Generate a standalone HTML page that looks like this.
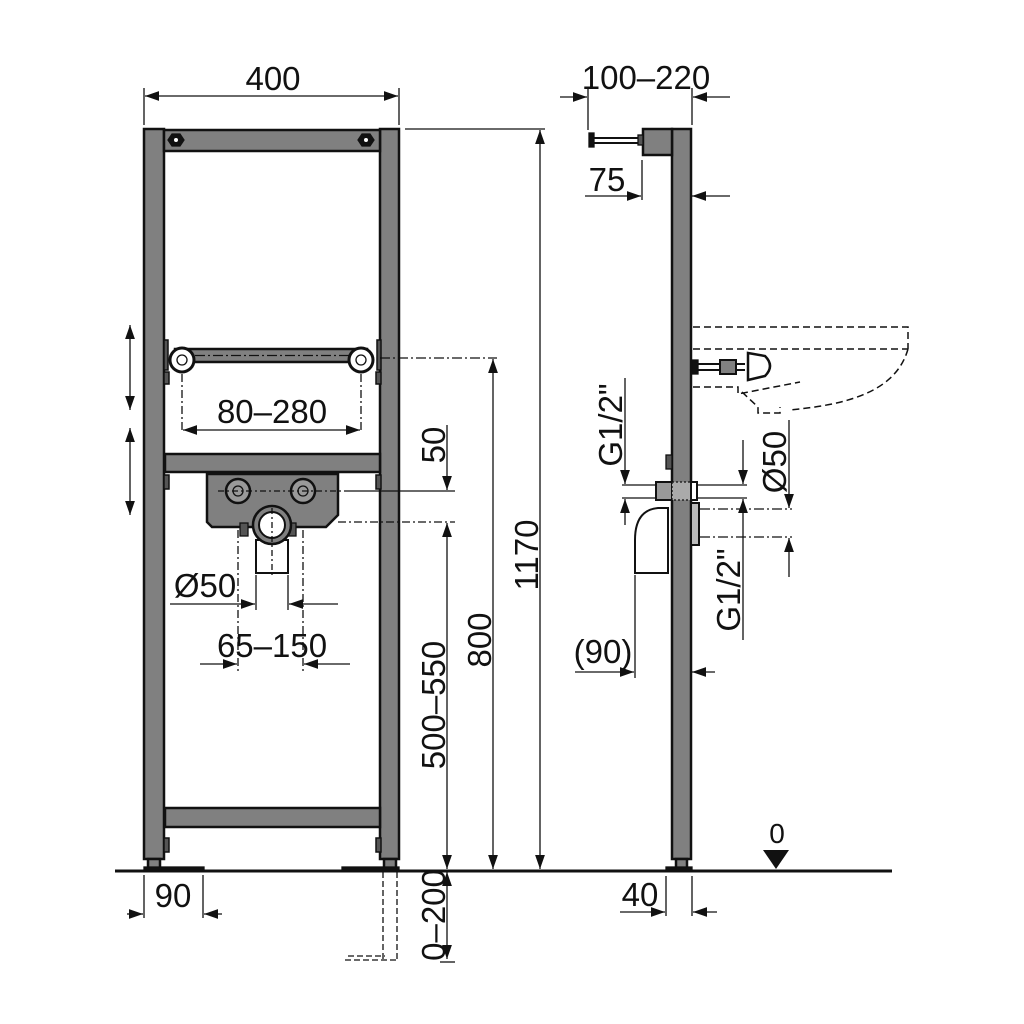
<!DOCTYPE html>
<html><head><meta charset="utf-8"><style>
html,body{margin:0;padding:0;background:#fff;}
svg{display:block;}
text{font-family:"Liberation Sans","DejaVu Sans",sans-serif;fill:#111;}
</style></head><body>
<svg width="1024" height="1024" viewBox="0 0 1024 1024" xmlns="http://www.w3.org/2000/svg">
<defs>
<marker id="a" viewBox="0 0 10 10" refX="10" refY="5" markerWidth="14" markerHeight="14" markerUnits="userSpaceOnUse" orient="auto-start-reverse"><path d="M0,1.5 L10,5 L0,8.5 z" fill="#111"/></marker>
</defs>
<g stroke="#111" stroke-width="1.3" fill="none">
<line x1="115" y1="871" x2="892" y2="871" stroke-width="3"/>

<g fill="#808080" stroke="#111" stroke-width="2.5">
<rect x="144" y="129" width="20" height="730"/>
<rect x="380" y="129" width="19" height="730"/>
<rect x="164" y="130" width="216" height="21"/>
<rect x="165" y="454" width="215" height="18"/>
<rect x="165" y="808" width="215" height="19"/>
<rect x="148" y="859" width="12" height="10"/>
<rect x="384" y="859" width="12" height="10"/>
</g>
<rect x="144" y="867" width="60" height="4" fill="#111"/>
<rect x="342" y="867" width="57" height="4" fill="#111"/>
<polygon points="172,134 180,134 184,140 180,146 172,146 168,140" fill="#111"/>
<circle cx="176" cy="140" r="2" fill="#fff" stroke="none"/>
<polygon points="362,134 370,134 374,140 370,146 362,146 358,140" fill="#111"/>
<circle cx="366" cy="140" r="2" fill="#fff" stroke="none"/>
<g fill="#555" stroke="#111" stroke-width="1.5">
<rect x="164" y="372" width="5" height="12"/><rect x="376" y="372" width="5" height="12"/>
<rect x="164" y="475" width="5" height="14"/><rect x="376" y="475" width="5" height="14"/>
<rect x="164" y="838" width="5" height="14"/><rect x="376" y="838" width="5" height="14"/>
<rect x="164" y="340" width="4" height="30"/><rect x="377" y="340" width="4" height="30"/>
</g>
<rect x="175" y="349" width="192" height="13" fill="#808080" stroke="#111" stroke-width="2.5"/>
<line x1="195" y1="355.5" x2="350" y2="355.5" stroke-dasharray="10,3,2,3"/>
<circle cx="182" cy="360" r="12" fill="#fff" stroke="#111" stroke-width="3"/>
<circle cx="361" cy="360" r="12" fill="#fff" stroke="#111" stroke-width="3"/>
<circle cx="182" cy="360" r="5"/><circle cx="361" cy="360" r="5"/>
<line x1="182" y1="374" x2="182" y2="430" stroke-dasharray="8,3,2,3"/>
<line x1="361" y1="374" x2="361" y2="430" stroke-dasharray="8,3,2,3"/>
<path d="M207,474 L338,474 L338,515 L326,527 L212,527 L207,522 Z" fill="#808080" stroke="#111" stroke-width="2.5"/>
<g fill="#999" stroke="#111" stroke-width="2.5">
<circle cx="238" cy="491" r="12"/><circle cx="303" cy="491" r="12"/>
</g>
<circle cx="238" cy="491" r="5"/><circle cx="303" cy="491" r="5"/>
<line x1="218" y1="491" x2="350" y2="491" stroke-dasharray="6,3,2,3"/>
<rect x="240" y="523" width="8" height="13" fill="#555"/><rect x="288" y="523" width="8" height="13" fill="#555"/>
<rect x="256" y="540" width="32" height="33" fill="#fff" stroke="#111" stroke-width="2"/>
<circle cx="272" cy="525" r="19" fill="#808080" stroke="#111" stroke-width="2.5"/>
<circle cx="272" cy="525" r="13" fill="#fff" stroke="#111" stroke-width="2"/>
<line x1="272" y1="508" x2="272" y2="575" stroke-dasharray="6,3,2,3"/>
<line x1="338" y1="522" x2="455" y2="522" stroke-dasharray="8,3,2,3"/>
<line x1="350" y1="491" x2="455" y2="491"/>
<line x1="380" y1="358" x2="497" y2="358" stroke-dasharray="10,3,2,3"/>
<line x1="405" y1="129" x2="545" y2="129"/>

<line x1="144" y1="88" x2="144" y2="125"/><line x1="399" y1="88" x2="399" y2="125"/>
<line x1="145" y1="96" x2="398" y2="96" marker-start="url(#a)" marker-end="url(#a)"/>
<line x1="183" y1="430" x2="360" y2="430" marker-start="url(#a)" marker-end="url(#a)"/>
<line x1="130" y1="325" x2="130" y2="410" marker-start="url(#a)" marker-end="url(#a)"/>
<line x1="130" y1="428" x2="130" y2="515" marker-start="url(#a)" marker-end="url(#a)"/>
<line x1="256" y1="575" x2="256" y2="610"/><line x1="288" y1="575" x2="288" y2="610"/>
<line x1="170" y1="604" x2="255" y2="604" marker-end="url(#a)"/>
<line x1="338" y1="604" x2="289" y2="604" marker-end="url(#a)"/>
<line x1="238" y1="530" x2="238" y2="672" stroke-dasharray="8,3,2,3"/>
<line x1="303" y1="530" x2="303" y2="672" stroke-dasharray="8,3,2,3"/>
<line x1="200" y1="664" x2="237" y2="664" marker-end="url(#a)"/>
<line x1="350" y1="664" x2="304" y2="664" marker-end="url(#a)"/>
<line x1="447" y1="425" x2="447" y2="490" marker-end="url(#a)"/>
<line x1="447" y1="523" x2="447" y2="869" marker-start="url(#a)" marker-end="url(#a)"/>
<line x1="447" y1="872" x2="447" y2="959" marker-start="url(#a)" marker-end="url(#a)"/>
<line x1="440" y1="962" x2="455" y2="962"/>
<line x1="493" y1="359" x2="493" y2="869" marker-start="url(#a)" marker-end="url(#a)"/>
<line x1="540" y1="130" x2="540" y2="869" marker-start="url(#a)" marker-end="url(#a)"/>
<line x1="383" y1="872" x2="383" y2="960" stroke-dasharray="6,3"/>
<line x1="397" y1="872" x2="397" y2="960" stroke-dasharray="6,3"/>
<line x1="345" y1="960" x2="397" y2="960" stroke-dasharray="6,3"/>
<line x1="348" y1="956" x2="385" y2="956" stroke-dasharray="6,3"/>
<line x1="144" y1="875" x2="144" y2="918"/><line x1="203" y1="875" x2="203" y2="918"/>
<line x1="127" y1="914" x2="143" y2="914" marker-end="url(#a)"/>
<line x1="222" y1="914" x2="204" y2="914" marker-end="url(#a)"/>

<g fill="#808080" stroke="#111" stroke-width="2.5">
<rect x="672" y="129" width="19" height="730"/>
<rect x="643" y="129" width="29" height="26"/>
<rect x="676" y="859" width="11" height="10"/>
</g>
<rect x="666" y="867" width="26" height="4" fill="#111"/>
<line x1="593" y1="138" x2="640" y2="138" stroke-width="2"/><line x1="593" y1="143" x2="640" y2="143" stroke-width="2"/>
<rect x="589" y="133" width="5" height="14" fill="#111"/>
<rect x="638" y="135" width="5" height="10" fill="#555"/>
<line x1="588" y1="88" x2="588" y2="130"/><line x1="692" y1="88" x2="692" y2="125"/>
<line x1="560" y1="97" x2="587" y2="97" marker-end="url(#a)"/>
<line x1="730" y1="97" x2="693" y2="97" marker-end="url(#a)"/>
<line x1="642" y1="160" x2="642" y2="200"/>
<line x1="585" y1="196" x2="641" y2="196" marker-end="url(#a)"/>
<line x1="730" y1="196" x2="692" y2="196" marker-end="url(#a)"/>
<g stroke-dasharray="7,4" stroke-width="1.5">
<path d="M693,327 L908,327 L908,349"/>
<line x1="693" y1="349" x2="908" y2="349"/>
<path d="M908,349 C895,395 840,405 790,410"/>
<path d="M693,387 L738,387 L738,394 L800,382"/>
<path d="M742,392 L758,407 L758,413 L780,413 L780,407"/>
</g>
<line x1="695" y1="364" x2="745" y2="364" stroke-width="2"/><line x1="695" y1="370" x2="745" y2="370" stroke-width="2"/>
<rect x="692" y="360" width="6" height="14" fill="#111"/>
<rect x="720" y="360" width="16" height="14" fill="#808080" stroke-width="2"/>
<path d="M748,353 L765,356 Q775,366 765,376 L748,380 Z" fill="#fff" stroke-width="2.5"/>
<rect x="666" y="455" width="6" height="14" fill="#555"/>
<rect x="656" y="482" width="16" height="18" fill="#999" stroke-width="2"/>
<rect x="672" y="482" width="19" height="18" fill="#aaa" stroke-dasharray="2,2"/>
<rect x="691" y="482" width="6" height="18" fill="#fff" stroke-width="2"/>
<rect x="691" y="503" width="8" height="42" fill="#bbb" stroke-width="2"/>
<path d="M668,508 L658,508 Q635,510 635,540 L635,573 L668,573 Z" fill="#fff" stroke-width="2"/>
<line x1="622" y1="485" x2="656" y2="485"/><line x1="622" y1="498" x2="656" y2="498"/>
<line x1="625" y1="378" x2="625" y2="484" marker-end="url(#a)"/>
<line x1="625" y1="525" x2="625" y2="499" marker-end="url(#a)"/>
<line x1="697" y1="485" x2="747" y2="485"/><line x1="697" y1="498" x2="747" y2="498"/>
<line x1="743" y1="440" x2="743" y2="484" marker-end="url(#a)"/>
<line x1="743" y1="640" x2="743" y2="499" marker-end="url(#a)"/>
<line x1="700" y1="509" x2="792" y2="509" stroke-dasharray="10,3,2,3"/>
<line x1="700" y1="537" x2="792" y2="537" stroke-dasharray="10,3,2,3"/>
<line x1="789" y1="420" x2="789" y2="508" marker-end="url(#a)"/>
<line x1="789" y1="577" x2="789" y2="538" marker-end="url(#a)"/>
<line x1="635" y1="575" x2="635" y2="678"/>
<line x1="575" y1="672" x2="634" y2="672" marker-end="url(#a)"/>
<line x1="715" y1="672" x2="692" y2="672" marker-end="url(#a)"/>
<line x1="666" y1="876" x2="666" y2="916"/><line x1="692" y1="876" x2="692" y2="916"/>
<line x1="620" y1="912" x2="665" y2="912" marker-end="url(#a)"/>
<line x1="717" y1="912" x2="693" y2="912" marker-end="url(#a)"/>
<polygon points="763,850 789,850 776,869" fill="#111" stroke="none"/>
</g>

<g font-size="33">
<text x="273" y="90" text-anchor="middle">400</text>
<text x="272" y="423" text-anchor="middle">80–280</text>
<text x="205" y="597" text-anchor="middle">Ø50</text>
<text x="272" y="657" text-anchor="middle">65–150</text>
<text x="173" y="907" text-anchor="middle">90</text>
<text transform="translate(445,445) rotate(-90)" text-anchor="middle">50</text>
<text transform="translate(445,705) rotate(-90)" text-anchor="middle">500–550</text>
<text transform="translate(445,915) rotate(-90)" text-anchor="middle">0–200</text>
<text transform="translate(491,640) rotate(-90)" text-anchor="middle">800</text>
<text transform="translate(538,555) rotate(-90)" text-anchor="middle">1170</text>
<text x="646" y="89" text-anchor="middle">100–220</text>
<text x="607" y="191" text-anchor="middle">75</text>
<text x="603" y="663" text-anchor="middle">(90)</text>
<text x="640" y="906" text-anchor="middle">40</text>
<text x="777" y="843" text-anchor="middle" font-size="28">0</text>
<text transform="translate(622,425) rotate(-90)" text-anchor="middle">G1/2"</text>
<text transform="translate(740,590) rotate(-90)" text-anchor="middle">G1/2"</text>
<text transform="translate(786,462) rotate(-90)" text-anchor="middle">Ø50</text>
</g>
</svg>
</body></html>
